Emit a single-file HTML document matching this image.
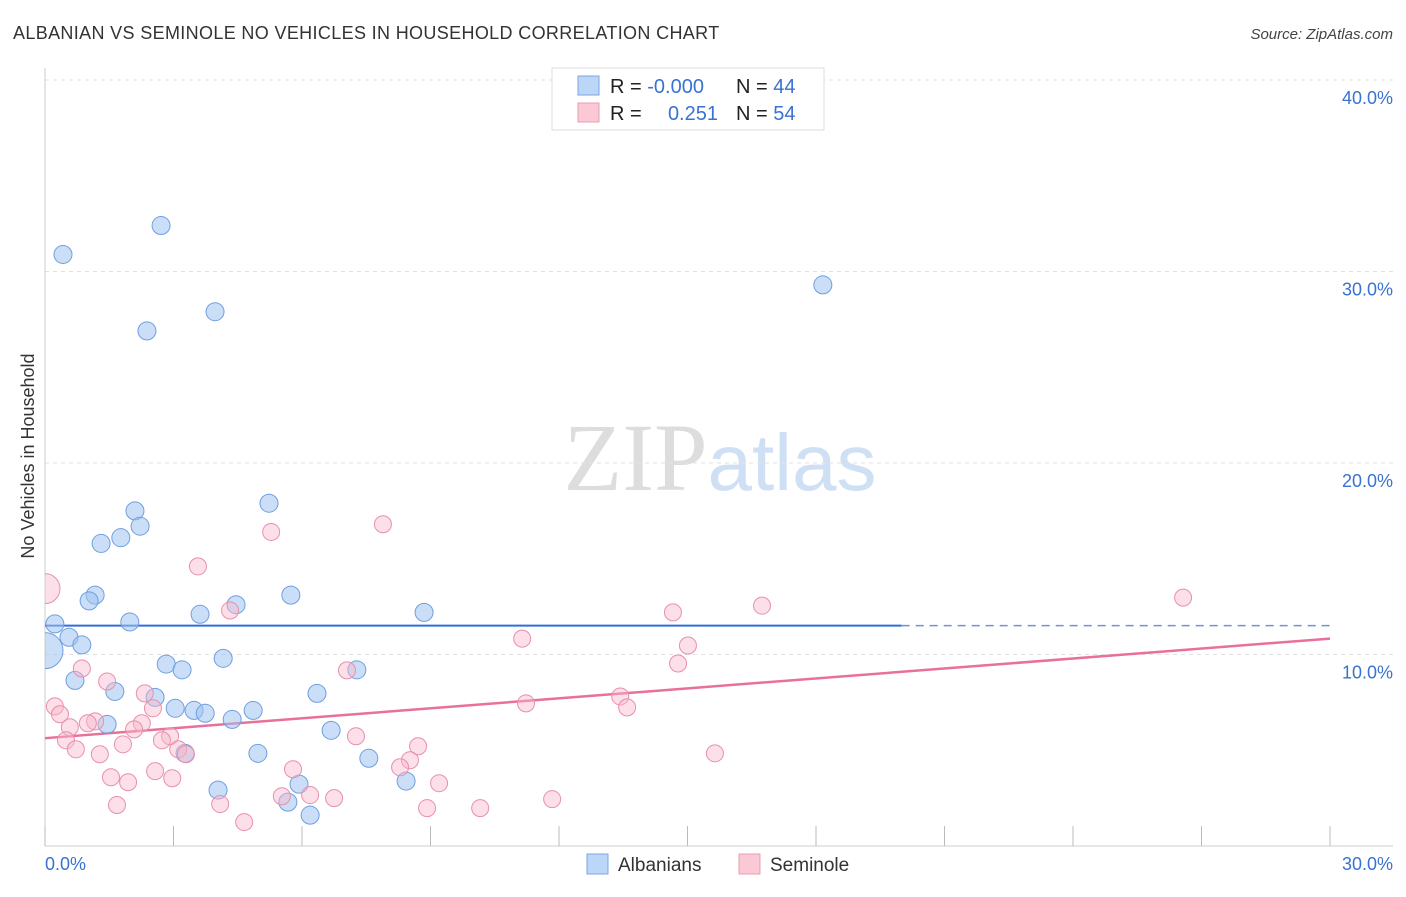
<!DOCTYPE html>
<html><head><meta charset="utf-8"><style>
body{margin:0;background:#fff;font-family:"Liberation Sans",sans-serif;}
svg text{font-family:"Liberation Sans",sans-serif;}
</style></head><body>
<svg id="chart" width="1406" height="892" xmlns="http://www.w3.org/2000/svg">
<defs><clipPath id="plotclip"><rect x="45" y="60" width="1360" height="786"/></clipPath></defs>
<text x="13" y="39" font-size="18" fill="#333" letter-spacing="0.35">ALBANIAN VS SEMINOLE NO VEHICLES IN HOUSEHOLD CORRELATION CHART</text>
<text x="1393" y="39" font-size="15" fill="#444" font-style="italic" text-anchor="end">Source: ZipAtlas.com</text>
<text x="720" y="490" font-size="96" text-anchor="middle"><tspan fill="#ddd" font-family="Liberation Serif">ZIP</tspan><tspan fill="#cfe0f5" font-size="80">atlas</tspan></text>
<text transform="translate(34,456) rotate(-90)" font-size="18" fill="#333" text-anchor="middle">No Vehicles in Household</text>
<g id="grid"></g><g id="axes"></g><g id="trend"></g><g id="points" clip-path="url(#plotclip)"></g>
<g>
<rect x="552" y="68" width="272" height="62" fill="#fff" stroke="#ddd"/>
<rect x="578" y="76" width="21" height="19" fill="#bcd6f8" stroke="#7aa5e0"/>
<rect x="578" y="103" width="21" height="19" fill="#fbc8d6" stroke="#ea9cb3"/>
<text x="610" y="93" font-size="20" fill="#222">R = <tspan fill="#3a72d0">-0.000</tspan></text>
<text x="736" y="93" font-size="20" fill="#222">N = <tspan fill="#3a72d0">44</tspan></text>
<text x="610" y="120" font-size="20" fill="#222">R = </text>
<text x="718" y="120" font-size="20" fill="#3a72d0" text-anchor="end">0.251</text>
<text x="736" y="120" font-size="20" fill="#222">N = <tspan fill="#3a72d0">54</tspan></text>
</g>
<g>
<rect x="587" y="854" width="21" height="20" fill="#bcd6f8" stroke="#7aa5e0"/>
<text x="618" y="871" font-size="19" fill="#333">Albanians</text>
<rect x="739" y="854" width="21" height="20" fill="#fbc8d6" stroke="#ea9cb3"/>
<text x="770" y="871" font-size="19" fill="#333">Seminole</text>
</g>
</svg>
<script>
const blueX=[0.42,2.71,2.38,3.97,18.16,5.23,2.10,2.22,1.31,1.77,1.17,1.03,5.74,4.46,3.62,8.85,1.98,0.23,0.56,0.86,0,4.16,2.83,3.20,7.28,0.70,1.63,2.57,6.35,3.04,3.48,3.74,4.86,4.37,1.45,6.68,3.27,4.97,7.56,8.43,4.04,5.93,5.67,6.19];
const blueY=[30.89,32.4,26.9,27.9,29.3,17.9,17.5,16.7,15.8,16.1,13.1,12.8,13.1,12.6,12.1,12.2,11.7,11.6,10.9,10.5,10.2,9.8,9.5,9.2,9.2,8.65,8.07,7.76,7.97,7.19,7.08,6.93,7.08,6.61,6.35,6.04,4.84,4.84,4.58,3.39,2.92,3.23,2.29,1.61];
const pinkX=[0,5.28,7.89,3.57,4.32,14.66,16.74,26.57,11.14,15.01,0.86,7.05,14.78,1.45,2.33,2.52,13.43,13.59,11.23,0.23,0.35,1.17,0.58,1.0,2.26,2.08,2.92,2.73,0.49,1.82,0.72,3.11,1.28,3.29,7.26,8.71,8.52,15.64,5.79,8.29,2.57,1.54,2.97,1.94,9.2,5.53,6.19,6.75,1.68,4.09,8.92,10.16,11.84,4.65];
const pinkY=[13.44,16.4,16.8,14.6,12.3,12.2,12.55,12.97,10.83,10.47,9.27,9.17,9.53,8.59,7.97,7.19,7.81,7.24,7.45,7.29,6.88,6.51,6.2,6.41,6.41,6.09,5.73,5.52,5.52,5.31,5.05,5.05,4.79,4.79,5.73,5.21,4.48,4.84,4.01,4.11,3.91,3.59,3.54,3.33,3.28,2.6,2.66,2.5,2.14,2.19,1.98,1.98,2.45,1.25];
const yTicks=[10,20,30,40];
const yTickLabels=["10.0%","20.0%","30.0%","40.0%"];
const xTickLabels=["0.0%","30.0%"];
const blueTrend=[11.51,11.51];
const pinkTrend=[5.63,10.83];
const NS="http://www.w3.org/2000/svg";
const sx=v=>45+v*1285/30, sy=v=>846-v*19.15;
function mk(tag,attrs,parent){const e=document.createElementNS(NS,tag);for(const k in attrs)e.setAttribute(k,attrs[k]);document.getElementById(parent).appendChild(e);return e;}
yTicks.forEach((t,i)=>{
 const g=mk('line',{x1:45,x2:1393,y1:sy(t),y2:sy(t),stroke:'#e2e2e2','stroke-dasharray':'4,4'},'grid');
 
 
 const l=mk('text',{x:1393,y:sy(t)+24,'font-size':18,fill:'#3a72d0','text-anchor':'end'},'grid');
 l.textContent=yTickLabels[i];
 
 
});
const ax=mk('line',{x1:45,x2:1393,y1:846,y2:846,stroke:'#ccc'},'axes');


const ay=mk('line',{x1:45,x2:45,y1:68,y2:846,stroke:'#ccc'},'axes');


for(let i=0;i<=10;i++){const t=mk('line',{x1:sx(i*3),x2:sx(i*3),y1:826,y2:846,stroke:'#bbb'},'axes');
 
 }
const xl0=mk('text',{x:45,y:870,'font-size':18,fill:'#3a72d0'},'axes');xl0.textContent=xTickLabels[0];


const xl1=mk('text',{x:1393,y:870,'font-size':18,fill:'#3a72d0','text-anchor':'end'},'axes');xl1.textContent=xTickLabels[1];


const bt=mk('line',{x1:sx(0),x2:sx(20),y1:sy(blueTrend[0]),y2:sy(blueTrend[0]+(blueTrend[1]-blueTrend[0])*20/30),stroke:'#2f6fd6','stroke-width':2},'trend');


const bd=mk('line',{x1:sx(20),x2:sx(30),y1:sy(blueTrend[0]+(blueTrend[1]-blueTrend[0])*20/30),y2:sy(blueTrend[1]),stroke:'#6f95d0','stroke-width':1.5,'stroke-dasharray':'8,6'},'trend');


const pt=mk('line',{x1:sx(0),x2:sx(30),y1:sy(pinkTrend[0]),y2:sy(pinkTrend[1]),stroke:'#e8709a','stroke-width':2.5},'trend');


blueX.forEach((x,i)=>{const c=mk('circle',{cx:sx(x),cy:sy(blueY[i]),r:(x===0?18:9),fill:'rgba(160,195,240,0.55)',stroke:'#6f9fe0','stroke-width':1},'points');
 
 });
pinkX.forEach((x,i)=>{const c=mk('circle',{cx:sx(x),cy:sy(pinkY[i]),r:(x===0?15:8.5),fill:'rgba(248,185,205,0.45)',stroke:'#e890aa','stroke-width':1},'points');
 
 });
</script>
</body></html>
